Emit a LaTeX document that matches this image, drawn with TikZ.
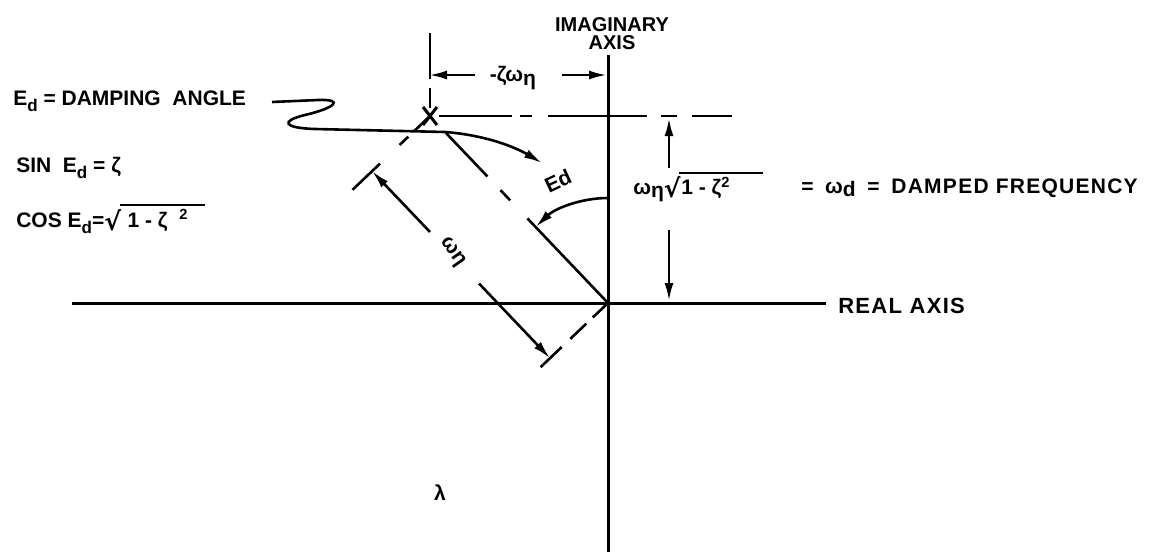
\documentclass[tikz,border=0pt]{standalone}
\usepackage{fontspec}
\setmainfont{Liberation Sans}
\newfontfamily\radfont{DejaVu Sans}
\usetikzlibrary{arrows.meta}
\newcommand\EdSub{E\raisebox{-0.55ex}{\fontsize{17}{17}\selectfont d}}
\newcommand\OmSub[1]{ω\raisebox{-0.3ex}{#1}}
\newcommand\Rad[1]{\raisebox{-3pt}{\radfont\fontsize{25}{25}\selectfont √}\kern-1.2pt\vbox{\hrule height 2pt\kern 3pt\hbox{\kern2pt#1\kern3pt}}}
\begin{document}
\begin{tikzpicture}[x=1pt,y=-1pt, line width=2.6pt,
  lbl/.style={font=\fontsize{21}{22}\selectfont\bfseries\boldmath, inner sep=0pt},
  wide/.style={font=\fontsize{22}{22}\selectfont\bfseries\boldmath\addfontfeature{LetterSpace=6}},
  tip/.style={-{Latex[length=18pt,width=9pt]}},
  axis/.style={line width=3pt}]
\useasboundingbox (0,0) rectangle (1153,552);

% key points
\coordinate (O) at (608,303);
\coordinate (P) at (430,116);

% axes
\coordinate (rl) at (72,303);
\coordinate (rr) at (826,303);
\coordinate (it) at (608,55);
\coordinate (ib) at (608,552);
\draw[axis] (rl) -- (rr);
\draw[axis] (it) -- (ib);
\node (real) [lbl, wide, anchor=west] at (837,306) {REAL\ AXIS};
\node (imag) [lbl, align=center, anchor=south, font=\fontsize{20}{18}\selectfont\bfseries] at (612,51) {IMAGINARY\\AXIS};

% pole marker
\draw[line width=3pt] (423,107) -- (437,125);
\draw[line width=3pt] (437,107) -- (423,125);

% horizontal dash-dot line through the pole
\coordinate (hl) at (439,116);
\coordinate (hr) at (732,116);
\draw[dash pattern=on 73pt off 8pt on 12pt off 16pt on 99pt off 18pt on 10pt off 17pt on 40pt] (hl) -- (hr);

% vertical extension above the pole
\coordinate (vt) at (430,33);
\coordinate (vm1) at (430,79);
\coordinate (vm2) at (430,88);
\coordinate (vb) at (430,108);
\draw (vt) -- (vm1);
\draw (vm2) -- (vb);

% -zeta omega dimension
\node (zw) [lbl] at (513,78) {-ζ\OmSub{η}};
\coordinate (zl) at (475,75);
\coordinate (zlt) at (429,75);
\coordinate (zr) at (562,75);
\coordinate (zrt) at (607,75);
\draw[tip] (zl) -- (zlt);
\draw[tip] (zr) -- (zrt);

% line from pole to origin
\coordinate (Ps) at (446,133);
\draw[dash pattern=on 60pt off 19pt on 14pt off 25pt on 120pt] (Ps) -- (O);

% extension lines perpendicular to the pole line
\coordinate (E1) at (352.5,189.8);
\coordinate (E2) at (540.6,367.1);
\draw[dash pattern=on 22pt off 8pt on 12pt off 27pt on 40pt] (P) -- (E1);
\draw[dash pattern=on 21pt off 9pt on 22pt off 12pt on 32pt] (O) -- (E2);

% omega_n dimension
\coordinate (D1) at (372.1,171.2);
\coordinate (D1e) at (430,232);
\coordinate (D2s) at (479,283.5);
\coordinate (D2) at (550.1,358.2);
\draw[tip] (D1e) -- (D1);
\draw[tip] (D2s) -- (D2);
\node (wn) [lbl, rotate=-55] at (452,252) {ωη};

% damping angle arc
\coordinate (A0) at (608,198);
\draw[tip] (A0) arc[start angle=-90, end angle=-133.6, radius=105];
\node (edl) [lbl, rotate=25] at (558,181) {Ed};

% omega_d dimension
\coordinate (wt1) at (661,116);
\coordinate (wt2) at (677,116);
\coordinate (wa) at (669,168);
\coordinate (wat) at (669,118);
\coordinate (wb) at (669,230);
\coordinate (wbt) at (669,301);
\draw (wt1) -- (wt2);
\draw[tip] (wa) -- (wat);
\draw[tip] (wb) -- (wbt);
\node (wd) [lbl, anchor=west] at (632,187) {\OmSub{η}\Rad{1 - ζ\textsuperscript{2}\kern30pt}};
\node (df) [lbl, anchor=west] at (800,188) {=\ \ \OmSub{d}\ \ =\ \ \addfontfeature{LetterSpace=6}DAMPED FREQUENCY};

% left-hand definitions
\node (dl) [lbl, anchor=west] at (12,101) {\EdSub{} = DAMPING\ \ ANGLE};
\node (sin) [lbl, anchor=west] at (15,168) {SIN\ \ \EdSub{} = ζ};
\node (cos) [lbl, anchor=west] at (15,219) {COS\ \EdSub{}=\Rad{\ 1 - ζ\ \ \textsuperscript{2}\kern14pt}};

% leader from the damping-angle label
\coordinate (L0) at (272,102);
\coordinate (Lt) at (542,163);
\draw[tip] (L0) -- (318,100) .. controls (345,99) and (335,108) .. (305,115)
  .. controls (280,121) and (283,128) .. (315,129) -- (445,132)
  .. controls (485,135) and (515,147) .. (Lt);

% lambda
\node (lam) [lbl] at (440,493) {λ};
\end{tikzpicture}
\end{document}
